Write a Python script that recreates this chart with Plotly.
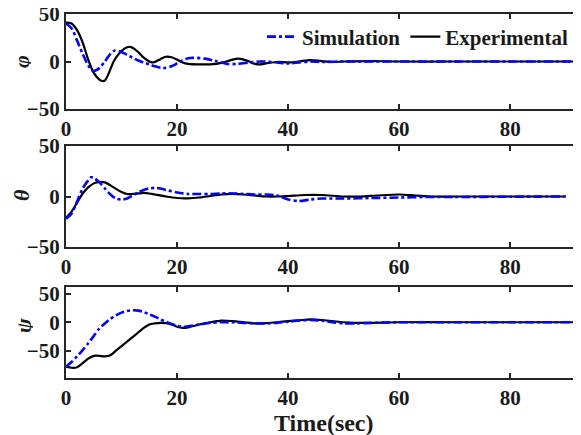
import plotly.graph_objects as go

# ---------------- data ----------------
phi_exp_t = [0, 1, 2, 3, 4, 5, 6, 6.5, 7, 7.5, 8, 8.5, 9, 10, 11, 11.5, 12, 13, 14, 15, 15.5, 16, 17, 18, 19, 20, 21, 22, 24, 26, 28, 30, 31, 32, 33, 34, 35, 36, 38, 40, 42, 44, 46, 48, 50, 55, 60, 70, 80, 91.7]
phi_exp_v = [41, 40, 33, 20, 2, -12, -19, -20.5, -20, -15, -8, -1, 4, 11, 15, 15.5, 14.5, 10, 4, 0, -1, -0.5, 2.5, 5, 4.5, 2, -1, -2.5, -3, -3, -1.5, 2, 3, 2, 0, -2.5, -3, -2, -0.5, -1, 0, 1.5, 0.5, -0.5, 0, 0.5, 0, 0, 0, 0]

phi_sim_t = [0, 1, 2, 3, 4, 4.9, 6, 7, 8, 8.8, 10, 11, 12, 13, 14, 15, 16, 17.5, 19, 20, 21, 22, 23, 25, 27, 29, 31, 33, 35, 38, 40, 42, 44, 46, 50, 60, 70, 80, 91.7]
phi_sim_v = [40, 35, 22, 8, -4, -10, -7, 0, 8, 11.5, 10, 7, 4, 1, -1, -3, -5, -7, -5, -2, 1, 3.5, 4, 3, 0.5, -2.5, -2.5, -1, 0, -1, -2, -1, 0, -0.5, 0, 0, 0, 0, 0]

theta_exp_t = [0, 1, 2, 3, 4, 5, 6, 7, 8, 9, 10, 11, 12, 13, 14, 15, 16, 18, 20, 22, 24, 26, 28, 30, 32, 34, 36, 38, 40, 43, 46, 50, 53, 56, 60, 63, 66, 70, 80, 90]
theta_exp_v = [-21, -15, -6, 3, 9, 13, 14.5, 14, 11, 7.5, 4.5, 2.5, 2.5, 3, 3.5, 3, 2, 0, -1.5, -1.8, -1, 0.5, 2, 2.5, 2, 1, 0, 0, 0.5, 1.5, 1.5, 0, 0, 1, 2, 1, 0, 0, 0, 0]

theta_sim_t = [0, 1, 2, 3, 4, 4.5, 5, 6, 7, 8, 9, 10, 11, 12, 13, 14, 15, 16, 17, 18, 20, 22, 24, 26, 28, 30, 32, 34, 36, 38, 40, 42, 44, 46, 50, 55, 60, 65, 70, 80, 90]
theta_sim_v = [-22, -17, -5, 8, 16, 19, 18.5, 14, 8, 2, -2, -3, -2, 1, 4, 6.5, 8, 8.5, 8, 6.5, 4, 2.5, 2.5, 2.5, 3, 3, 2.5, 2, 2, 1, -3, -4.5, -3, -2, -2, -1.5, -1, -0.5, -0.5, -0.2, 0]

psi_exp_t = [0, 1, 2, 3, 4, 5, 6, 7, 8, 9, 10, 11, 12, 13, 14, 15, 16, 17, 18, 19, 20, 21, 22, 24, 26, 28, 30, 32, 34, 36, 38, 40, 42, 44, 46, 48, 50, 52, 55, 60, 70, 80, 91.7]
psi_exp_v = [-78, -80, -79, -72, -64, -59, -59, -60, -58, -50, -42, -34, -26, -18, -10, -4, -2, -1, -1.5, -4, -8, -10, -9, -4, 0, 3, 2, 0, -2, -1.5, 0, 2, 3.5, 5, 4, 2, 0, -1, -1, 0, 0, 0, 0]

psi_sim_t = [0, 1, 2, 3, 4, 5, 6, 7, 8, 9, 10, 11, 12, 13, 14, 15, 16, 17, 18, 19, 20, 21, 22, 24, 26, 28, 30, 32, 34, 36, 38, 40, 42, 44, 46, 48, 50, 52, 55, 60, 70, 80, 91.7]
psi_sim_v = [-78, -70, -60, -49, -37, -24, -11, -2, 6, 12, 17, 20, 21, 20.5, 18, 14, 10, 5, 1, -3, -6, -8, -7, -4, -1, 0, 0, -1, -2, -2, -1, 1, 3, 4, 3, 0, -2, -2, -1, 0, 0, 0, 0]

x_ticks = [0, 20, 40, 60, 80]
y_ticks = [-50, 0, 50]
y_labels = ["φ", "θ", "ψ"]
legend_names = ["Simulation", "Experimental"]

# ---------------- figure ----------------
# the page body has an 8px margin: size the figure so it fits the window
OFF = 8
W, H = 581 - OFF, 435 - OFF
FONT = "Liberation Serif"
BLUE = "#0000FF"

fig = go.Figure()
panels = [
    (phi_sim_t, phi_sim_v, phi_exp_t, phi_exp_v),
    (theta_sim_t, theta_sim_v, theta_exp_t, theta_exp_v),
    (psi_sim_t, psi_sim_v, psi_exp_t, psi_exp_v),
]
for i, (st, sv, et, ev) in enumerate(panels):
    ax = "" if i == 0 else str(i + 1)
    fig.add_trace(go.Scatter(x=et, y=ev, mode="lines", name=legend_names[1],
                             line=dict(color="black", width=2.2, shape="spline", smoothing=0.8),
                             xaxis="x" + ax, yaxis="y" + ax, showlegend=(i == 0), legendrank=2))
    fig.add_trace(go.Scatter(x=st, y=sv, mode="lines", name=legend_names[0],
                             line=dict(color=BLUE, width=2.6, dash="dashdot", shape="spline", smoothing=0.8),
                             xaxis="x" + ax, yaxis="y" + ax, showlegend=(i == 0), legendrank=1))


def px(v):
    return v - OFF


# pixel boxes (top, bottom) of each panel, in window pixels
boxes = [(14, 109), (146, 247), (287, 378)]
yranges = [[-50, 50], [-50, 50], [-98, 62]]
label_pos = [(21, 62), (21, 195), (23, 326)]
x0, x1 = 66, 579

axis_common = dict(showline=True, linecolor="#262626", linewidth=2, mirror="ticks",
                   ticks="inside", ticklen=5, tickwidth=1.5, tickcolor="#262626",
                   showgrid=False, zeroline=False, automargin=False, ticklabeloverflow="allow",
                   tickfont=dict(family=FONT, size=21, color="#1a1a1a", weight="bold"))

layout = dict(width=W, height=H, margin=dict(l=0, r=0, t=0, b=0, autoexpand=False),
              paper_bgcolor="white", plot_bgcolor="white", showlegend=True,
              legend=dict(orientation="h", x=px(573) / W, xanchor="right", y=1 - px(37) / H, yanchor="middle",
                          bgcolor="rgba(0,0,0,0)", font=dict(family=FONT, size=21, color="#1a1a1a", weight="bold"),
                          itemwidth=30, tracegroupgap=0, traceorder="normal"))
annotations = []
for i, (top, bot) in enumerate(boxes):
    ax = "" if i == 0 else str(i + 1)
    layout["xaxis" + ax] = dict(domain=[px(x0) / W, min(px(x1) / W, 1)], range=[0, 92.4], tickvals=x_ticks,
                                anchor="y" + ax, **axis_common)
    layout["yaxis" + ax] = dict(domain=[1 - px(bot) / H, 1 - px(top) / H], range=yranges[i], tickvals=y_ticks,
                                anchor="x" + ax, **axis_common)
    lx, ly = label_pos[i]
    annotations.append(dict(text=y_labels[i], xref="paper", yref="paper", x=px(lx) / W,
                            y=1 - px(ly) / H, showarrow=False, textangle=-90, height=20, borderpad=0,
                            font=dict(family=FONT, size=22, color="#1a1a1a", weight="bold", style="italic"),
                            xanchor="center", yanchor="middle"))
annotations.append(dict(text="Time(sec)", xref="paper", yref="paper", x=px(324) / W, y=1 - px(423) / H,
                        showarrow=False, xanchor="center", yanchor="middle",
                        font=dict(family=FONT, size=24, color="#1a1a1a", weight="bold")))
layout["annotations"] = annotations
fig.update_layout(**layout)
fig.write_html("out.html")
